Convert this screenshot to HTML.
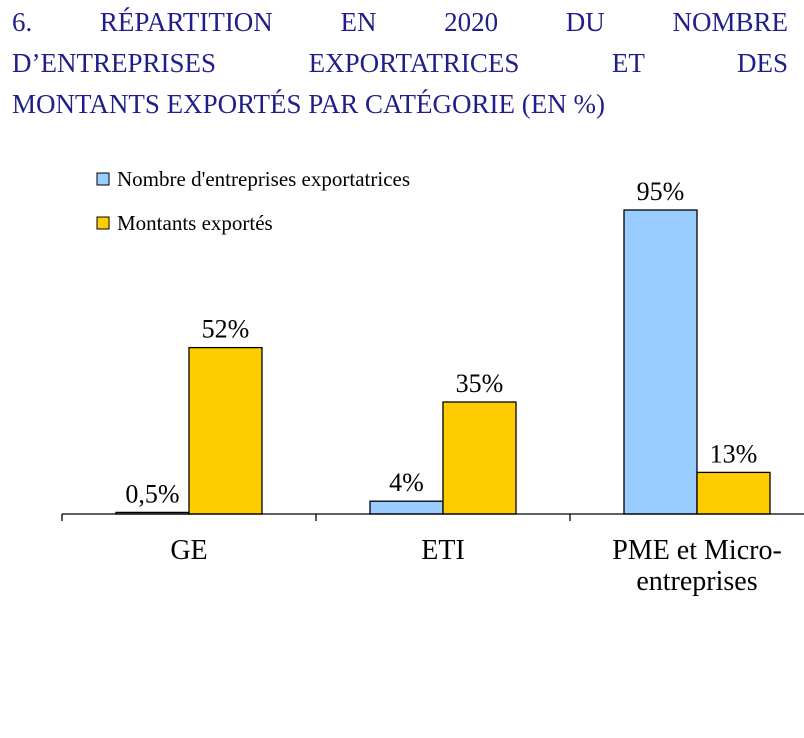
<!DOCTYPE html>
<html><head><meta charset="utf-8"><style>
body{margin:0;background:#fff;width:804px;height:738px;overflow:hidden;position:relative;font-family:"Liberation Serif",serif}
#title{position:absolute;left:12px;top:2px;width:776px;color:#1f1f8a;font-size:27px;line-height:41px;text-align:justify;text-align-last:left}
#title .l{display:block;text-align:justify;text-align-last:justify}
#title .l.last{text-align-last:left}
svg{position:absolute;left:0;top:0}
</style></head><body>
<div id="title">
<span class="l">6. RÉPARTITION EN 2020 DU NOMBRE</span>
<span class="l">D’ENTREPRISES EXPORTATRICES ET DES</span>
<span class="l last">MONTANTS EXPORTÉS PAR CATÉGORIE (EN %)</span>
</div>
<svg id="chart" width="804" height="738"></svg>
<script>
const categories=[["GE"],["ETI"],["PME et Micro-","entreprises"]];
const entreprises=[0.5,4,95];
const montants=[52,35,13];
const entLabels=["0,5%","4%","95%"];
const montLabels=["52%","35%","13%"];
const svg=document.getElementById('chart');
const NS='http://www.w3.org/2000/svg';
const base=514,x0=62,catW=254,barW=73,pxPer=3.2;
const y=v=>base-v*pxPer;
const cx=i=>x0+catW*i+catW/2;
function mk(t,a){const e=document.createElementNS(NS,t);for(const k in a)e.setAttribute(k,a[k]);svg.appendChild(e);return e;}
const series=[{d:entreprises,lab:entLabels,c:'#99ccff',off:-barW,n:'entreprises'},{d:montants,lab:montLabels,c:'#ffcc00',off:0,n:'montants'}];
series.forEach(s=>{s.d.forEach((v,i)=>{
 const r=mk('rect',{x:cx(i)+s.off,y:y(v),width:barW,height:base-y(v),fill:s.c,stroke:'#000','stroke-width':1.3});
 
 
 const t=mk('text',{x:cx(i)+s.off+barW/2,y:y(v)-10,'text-anchor':'middle','font-size':26,fill:'#000'});
 t.textContent=s.lab[i];
 
 
});});
const ax=mk('line',{x1:x0,y1:base,x2:804,y2:base,stroke:'#000','stroke-width':1.3});


for(let i=0;i<=3;i++){const tk=mk('line',{x1:x0+catW*i,y1:base,x2:x0+catW*i,y2:base+7,stroke:'#000','stroke-width':1.3});
 
 }
categories.forEach((c,i)=>{c.forEach((line,j)=>{
 const t=mk('text',{x:cx(i),y:559+j*31,'text-anchor':'middle','font-size':28,fill:'#000'});
 t.textContent=line;
 
 
});});
const leg=[["Nombre d'entreprises exportatrices",'#99ccff'],["Montants exportés",'#ffcc00']];
leg.forEach((l,i)=>{
 const r=mk('rect',{x:97,y:173+i*44,width:12,height:12,fill:l[1],stroke:'#000','stroke-width':1});
 
 
 const t=mk('text',{x:117,y:186+i*44,'font-size':21,fill:'#000'});
 t.textContent=l[0];
 
 
});
</script>
</body></html>
